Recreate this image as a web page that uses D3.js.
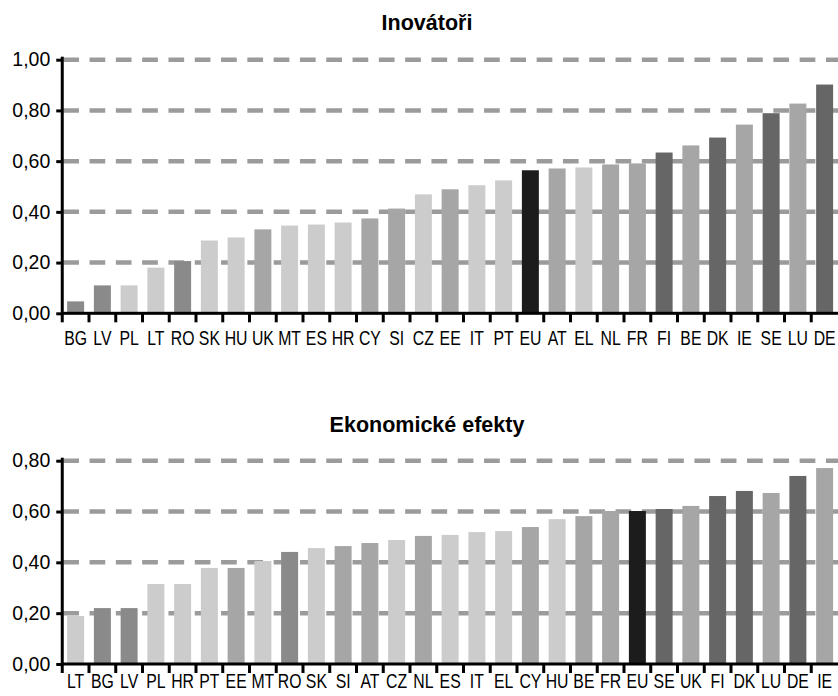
<!DOCTYPE html>
<html>
<head>
<meta charset="utf-8">
<script src="https://cdn.jsdelivr.net/npm/d3@7"></script>
<style>
  html, body { margin: 0; padding: 0; background: #fff; }
  svg { display: block; font-family: "Liberation Sans", Arial, Helvetica, sans-serif; }
</style>
</head>
<body>
<svg id="chart" width="838" height="696"></svg>
<script>
// Composite innovation index ("Inovátoři"), countries ordered by score
const innovCountries = ["BG","LV","PL","LT","RO","SK","HU","UK","MT","ES","HR","CY","SI","CZ","EE","IT","PT","EU","AT","EL","NL","FR","FI","BE","DK","IE","SE","LU","DE"];
const innovValues = [0.047,0.11,0.11,0.18,0.206,0.287,0.299,0.331,0.346,0.35,0.358,0.374,0.413,0.469,0.489,0.505,0.524,0.564,0.571,0.575,0.587,0.591,0.634,0.662,0.693,0.744,0.789,0.827,0.902];
const innovGroups = ["modest","modest","moderate","moderate","modest","moderate","moderate","strong","moderate","moderate","moderate","strong","strong","moderate","strong","moderate","moderate","EU","strong","moderate","strong","strong","leader","strong","leader","strong","leader","strong","leader"];
const innovTicks = [0, 0.2, 0.4, 0.6, 0.8, 1.0];

// Economic effects ("Ekonomické efekty"), countries ordered by score
const econCountries = ["LT","BG","LV","PL","HR","PT","EE","MT","RO","SK","SI","AT","CZ","NL","ES","IT","EL","CY","HU","BE","FR","EU","SE","UK","FI","DK","LU","DE","IE"];
const econValues = [0.189,0.22,0.22,0.315,0.315,0.378,0.378,0.405,0.441,0.456,0.464,0.476,0.488,0.504,0.508,0.519,0.523,0.539,0.57,0.582,0.602,0.602,0.61,0.622,0.661,0.681,0.673,0.74,0.771];
const econGroups = ["moderate","modest","modest","moderate","moderate","moderate","strong","moderate","modest","moderate","strong","strong","moderate","strong","moderate","moderate","moderate","strong","moderate","strong","strong","EU","leader","strong","leader","leader","strong","leader","strong"];
const econTicks = [0, 0.2, 0.4, 0.6, 0.8];

const groupColor = d3.scaleOrdinal()
  .domain(["modest", "moderate", "strong", "leader", "EU"])
  .range(["#8a8a8a", "#cccccc", "#a6a6a6", "#666666", "#1c1c1c"]);

const csLocale = d3.formatLocale({ decimal: ",", thousands: " ", grouping: [3], currency: ["", " Kč"] });
const fmt = csLocale.format(".2f");

const svg = d3.select("#chart");
const X0 = 62.25, X1 = 838;

function drawPanel(opts) {
  const { title, titleY, countries, values, groups, ticks, yMax, yBottom, yTop, labelDy } = opts;
  const g = svg.append("g");

  const x = d3.scaleBand().domain(countries).range([X0, X1])
    .paddingInner(0.365).paddingOuter(0.1825);
  const y = d3.scaleLinear().domain([0, yMax]).range([yBottom, yTop]);
  const step = x.step();

  // dashed horizontal gridlines behind the bars
  g.append("g").selectAll("line")
    .data(ticks.filter(t => t > 0))
    .join("line")
    .attr("x1", X0 + 1).attr("x2", X1)
    .attr("y1", d => y(d)).attr("y2", d => y(d))
    .attr("stroke", "#9b9b9b")
    .attr("stroke-width", 4.5)
    .attr("stroke-dasharray", "15.7,10.6");

  // bars
  g.append("g").selectAll("rect")
    .data(countries.map((c, i) => ({ c, v: values[i], grp: groups[i] })))
    .join("rect")
    .attr("x", d => x(d.c))
    .attr("width", x.bandwidth())
    .attr("y", d => y(d.v))
    .attr("height", d => y(0) - y(d.v))
    .attr("fill", d => groupColor(d.grp));

  // y axis labels and ticks
  const yAxis = g.append("g")
    .attr("transform", `translate(${X0},0)`)
    .call(d3.axisLeft(y).tickValues(ticks).tickFormat(fmt).tickSize(6).tickPadding(6));
  yAxis.select(".domain").remove();
  yAxis.selectAll(".tick line").attr("stroke", "#000").attr("stroke-width", 3);
  yAxis.selectAll(".tick text")
    .attr("fill", "#000")
    .style("font-size", "19.5px");

  // x axis: category labels centred on bars
  const xAxis = g.append("g")
    .attr("transform", `translate(0,${y(0)})`)
    .call(d3.axisBottom(x).tickSize(0).tickPadding(0));
  xAxis.select(".domain").remove();
  xAxis.selectAll(".tick text")
    .attr("y", labelDy).attr("dy", null)
    .attr("fill", "#000")
    .attr("transform", "scale(0.77,1)")
    .style("font-size", "20.5px");

  // axis lines and the tick marks on the category boundaries
  const y0 = y(0);
  g.append("rect")
    .attr("x", X0 - 1.5).attr("width", 3)
    .attr("y", y(yMax) - 3).attr("height", y0 + 9 - (y(yMax) - 3))
    .attr("fill", "#000");
  g.append("rect")
    .attr("x", X0).attr("width", X1 - X0)
    .attr("y", y0 - 1.5).attr("height", 3)
    .attr("fill", "#000");
  g.append("g").selectAll("rect")
    .data(countries.slice(1))
    .join("rect")
    .attr("x", c => x(c) - (step - x.bandwidth()) / 2 - 1.5)
    .attr("width", 3)
    .attr("y", y0).attr("height", 9)
    .attr("fill", "#000");

  // panel title
  g.append("text")
    .attr("x", 427).attr("y", titleY)
    .attr("text-anchor", "middle")
    .style("font-weight", "bold")
    .style("font-size", "21.5px")
    .text(title);
}

drawPanel({
  title: "Inovátoři", titleY: 29.5,
  countries: innovCountries, values: innovValues, groups: innovGroups,
  ticks: innovTicks, yMax: 1.0, yBottom: 313.3, yTop: 59.7, labelDy: 31.5
});

drawPanel({
  title: "Ekonomické efekty", titleY: 431.7,
  countries: econCountries, values: econValues, groups: econGroups,
  ticks: econTicks, yMax: 0.8, yBottom: 664, yTop: 460.7, labelDy: 24
});
</script>
</body>
</html>
